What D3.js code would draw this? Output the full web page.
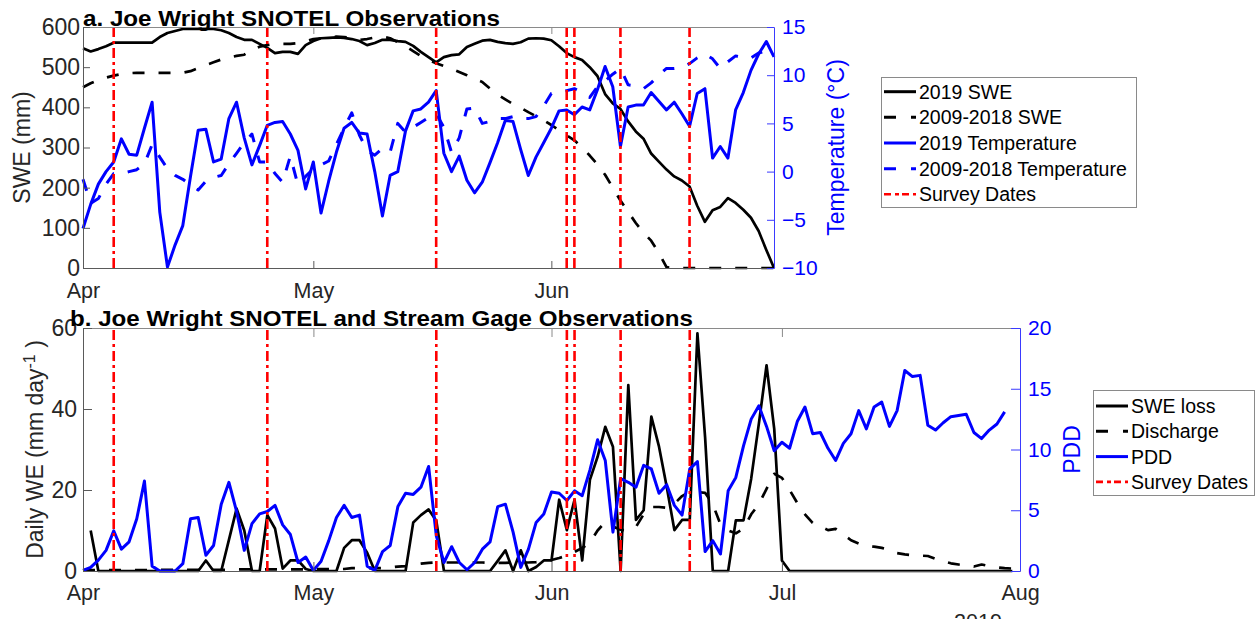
<!DOCTYPE html>
<html>
<head>
<meta charset="utf-8">
<script src="https://cdn.jsdelivr.net/npm/d3@7"></script>
<style>
  body { margin: 0; background: #fff; }
  svg text { font-family: "Liberation Sans", Arial, Helvetica, sans-serif; }
</style>
</head>
<body>
<svg id="chart" width="1256" height="619"></svg>
<script>
var parseDay = d3.timeParse("%Y-%m-%d");

// daily series, panel a runs Apr 1 - Jun 30, panel b Apr 1 - Jul 31
var daysA = d3.timeDay.range(parseDay("2019-04-01"), parseDay("2019-07-01"));
var daysB = d3.timeDay.range(parseDay("2019-04-01"), parseDay("2019-08-01"));

var surveyDates = ["2019-04-05", "2019-04-25", "2019-05-17", "2019-06-03", "2019-06-04", "2019-06-10", "2019-06-19"];
var monthTicksA = ["2019-04-01", "2019-05-01", "2019-06-01"];
var monthTicksB = ["2019-04-01", "2019-05-01", "2019-06-01", "2019-07-01", "2019-08-01"];

var sweTicks = [0, 100, 200, 300, 400, 500, 600];
var tempTicks = [-10, -5, 0, 5, 10, 15];
var weTicks = [0, 20, 40, 60];
var pddTicks = [0, 5, 10, 15, 20];

// SWE (mm)
var swe2019 = [547, 539, 545, 552, 561, 561, 561, 561, 561, 561,
  575, 585, 590, 595, 595, 595, 595, 595, 592, 585,
  575, 568, 568, 558, 548, 535, 538, 538, 533, 555,
  565, 572, 573, 574, 573, 570, 565, 555, 560, 568,
  568, 565, 563, 553, 538, 525, 512, 525, 530, 532,
  550, 558, 566, 568, 563, 560, 558, 562, 571, 572,
  571, 567, 552, 535, 525, 518, 500, 478, 433, 410,
  396, 365, 340, 322, 285, 265, 245, 228, 218, 203,
  155, 115, 144, 152, 174, 162, 145, 125, 92, 45, 0];
var sweAvg = [450, 460, 468, 474, 479, 483, 485, 486, 486, 486,
  486, 486, 486, 486, 490, 498, 505, 512, 519, 524,
  528, 531, 543, 551, 555, 558, 558, 558, 560, 565,
  570, 572, 575, 576, 575, 572, 568, 570, 574, 576,
  572, 562, 552, 540, 528, 518, 510, 503, 496, 488,
  480, 471, 463, 447, 432, 420, 408, 399, 388, 378,
  368, 356, 343, 330, 318, 300, 280, 258, 232, 200,
  168, 140, 112, 88, 68, 38, 2, 0, 0, 0,
  0, 0, 0, 0, 0, 0, 0, 0, 0, 0, 0];

// air temperature (deg C)
var temp2019 = [-5.9, -3.4, -1.3, 0.0, 1.0, 3.4, 1.8, 1.7, 4.5, 7.2,
  -4.2, -9.9, -7.6, -5.6, -0.5, 4.3, 4.4, 1.0, 1.3, 5.5,
  7.2, 3.5, 0.7, 2.7, 4.8, 5.1, 5.2, 3.9, 2.2, -1.8,
  1.0, -4.3, -1.0, 2.0, 4.5, 5.1, 4.0, 3.9, 0.0, -4.6,
  -0.4, 0.0, 4.2, 6.3, 6.5, 7.2, 8.4, 1.9, 0.0, 1.6,
  -0.9, -2.2, -1.1, 0.9, 3.0, 5.3, 5.2, 2.3, -0.4, 1.5,
  3.0, 4.5, 6.3, 6.4, 5.9, 6.7, 6.4, 8.5, 10.9, 8.8,
  2.6, 6.7, 6.9, 6.9, 8.2, 7.3, 6.4, 7.2, 6.0, 4.7,
  8.1, 8.6, 1.4, 2.6, 1.4, 6.4, 8.2, 10.5, 12.2, 13.5, 11.9];
var tempAvg = [-0.8, -3.3, -2.8, -1.3, -0.2, -0.2, 0.0, 0.2, 0.8, 2.8,
  1.5, 0.3, -0.4, -0.8, -1.4, -1.9, -1.0, -0.6, -0.4, 0.8,
  1.9, 3.0, 3.9, 1.0, 1.0, -0.2, -1.1, 1.6, -1.4, -0.5,
  0.3, 0.7, 1.1, 2.8, 4.5, 6.1, 3.8, 2.2, 1.7, 2.4,
  2.0, 5.0, 4.1, 4.6, 5.1, 5.6, 6.0, 4.6, 2.0, 3.5,
  6.5, 6.6, 5.0, 5.2, 5.5, 5.5, 5.7, 5.5, 5.5, 5.7,
  6.8, 8.1, 8.3, 8.4, 8.6, 8.2, 7.7, 8.8, 9.4, 10.1,
  10.7, 9.0, 8.9, 8.6, 9.2, 10.0, 10.7, 10.7, 10.8, 11.2,
  11.8, 12.2, 11.7, 10.7, 11.4, 12.0, 11.8, 11.8, 12.3, 12.5, 12.5];

// daily water equivalent (mm/day) and positive degree days
var sweLoss = [null, 10, 0, 0, 0, 0, 0, 0, 0, 0,
  0, 0, 0, 0, 0, 0, 2.6, 0, 0, 7.7,
  15.4, 10.0, 0, 0, 13.8, 10.5, 0.6, 2.6, 2.6, 0.5,
  0, 0, 0, 0, 5.7, 7.6, 7.6, 4.5, 0, 0,
  0, 0, 0, 12.0, 13.8, 15.2, 12.4, 0, 0, 0,
  0, 0, 0, 0, 2.5, 5.1, 0, 5.1, 0, 1.0,
  2.6, 2.6, 17.6, 10.1, 17.6, 2.6, 22.5, 28.2, 35.6, 30.7,
  0, 45.9, 12.6, 15.0, 38.1, 30.7, 20.8, 10.1, 12.6, 12.6,
  58.7, 33.0, 0, 0, 0, 12.5, 12.5, 22.8, 36.4, 50.8,
  35.1, 2.6, 0, 0, 0, 0, 0, 0, 0, 0,
  0, 0, 0, 0, 0, 0, 0, 0, 0, 0,
  0, 0, 0, 0, 0, 0, 0, 0, 0, 0,
  0, 0];
var discharge = [0.2, 0.2, 0.2, 0.2, 0.2, 0.2, 0.2, 0.2, 0.2, 0.2,
  0.3, 0.3, 0.3, 0.3, 0.3, 0.3, 0.3, 0.3, 0.3, 0.3,
  0.4, 0.4, 0.4, 0.4, 0.4, 0.4, 0.4, 0.4, 0.4, 0.4,
  0.5, 0.5, 0.5, 0.5, 0.5, 0.7, 0.7, 0.7, 0.7, 0.7,
  0.9, 1.1, 1.2, 1.5, 1.8, 2.0, 2.1, 2.1, 2.1, 2.1,
  2.1, 2.1, 2.1, 2.0, 2.0, 2.0, 2.1, 2.1, 2.1, 2.2,
  2.4, 2.7, 3.2, 3.8, 4.7, 5.7, 7.0, 10.0, 12.1, 11.0,
  10.2, 10.0, 10.9, 14.0, 15.8, 15.8, 15.6, 16.6, 18.5, 19.6,
  19.5, 19.3, 16.5, 11.5, 10.0, 9.3, 10.5, 14.0, 16.5, 20.3,
  24.0, 23.0, 20.0, 16.8, 14.0, 11.9, 11.0, 10.1, 10.4, 9.0,
  7.6, 6.8, 6.4, 6.0, 5.7, 5.2, 4.4, 4.1, 3.9, 3.8,
  3.7, 3.0, 2.4, 1.9, 1.6, 1.3, 1.1, 1.6, 1.2, 0.9,
  0.7, 0.6];
var pdd = [0.05, 0.3, 0.9, 1.7, 3.3, 1.8, 2.4, 4.3, 7.4, 0.4,
  0, 0, 0, 0.6, 4.3, 4.4, 1.3, 2.1, 5.5, 7.3,
  4.9, 1.7, 3.9, 4.7, 4.9, 5.4, 3.8, 3.0, 0.7, 1.15,
  0.05, 0.8, 2.5, 4.4, 5.4, 4.4, 4.6, 0.4, 0.05, 1.6,
  2.1, 5.3, 6.4, 6.3, 6.9, 8.6, 2.9, 0.7, 2.0, 0.7,
  0.1, 0.7, 1.8, 2.4, 5.3, 5.5, 3.2, 0.3, 1.8, 4.0,
  4.7, 6.5, 6.4, 5.8, 6.6, 6.2, 8.3, 10.8, 9.1, 3.2,
  7.6, 7.3, 6.9, 8.7, 8.4, 6.4, 7.1, 5.4, 4.6, 8.4,
  9.0, 1.6, 2.5, 1.4, 6.6, 7.7, 10.3, 12.5, 13.6, 11.9,
  9.9, 10.6, 10.1, 12.3, 13.5, 11.3, 11.4, 10.1, 9.1, 10.5,
  11.3, 13.2, 11.7, 13.5, 13.9, 11.9, 13.2, 16.5, 16.0, 16.1,
  12.0, 11.6, 12.2, 12.7, 12.8, 12.9, 11.4, 10.9, 11.6, 12.1,
  13.1, null];

var FONT = '"Liberation Sans", Arial, Helvetica, sans-serif';
var AXIS_GRAY = "#5a5a5a";
var AXIS_BLUE = "#3a3aff";
var BLUE = "#0000ff";

var svg = d3.select("#chart");

var xA = d3.scaleTime().domain([parseDay("2019-04-01"), parseDay("2019-06-30")]).range([83, 774]);
var xB = d3.scaleTime().domain([parseDay("2019-04-01"), parseDay("2019-08-01")]).range([83, 1020]);
var yA = d3.scaleLinear().domain([0, 600]).range([268, 27]);
var yAT = d3.scaleLinear().domain([-10, 15]).range([268, 27]);
var yB = d3.scaleLinear().domain([0, 60]).range([571, 328]);
var yBP = d3.scaleLinear().domain([0, 20]).range([571, 328]);

function styleAxis(g, color, textColor, size) {
  g.attr("font-family", FONT).attr("font-size", size);
  g.select(".domain").attr("stroke", color).attr("stroke-width", 1);
  g.selectAll(".tick line").attr("stroke", color);
  g.selectAll(".tick text").attr("fill", textColor);
}

function drawAxes(x, yl, yr, cfg) {
  var top = yl.range()[1], bottom = yl.range()[0];
  var left = x.range()[0], right = x.range()[1];
  var tl = cfg.tick;

  // box top with mirrored month ticks
  svg.append("g")
    .attr("transform", "translate(0," + top + ")")
    .call(d3.axisTop(x).tickValues(cfg.months).tickFormat("").tickSize(-tl).tickSizeOuter(0))
    .call(styleAxis, "#8a8a8a", "#262626", 21);

  svg.append("g")
    .attr("transform", "translate(0," + bottom + ")")
    .call(d3.axisBottom(x).tickValues(cfg.months).tickFormat(d3.timeFormat("%b"))
      .tickSize(-tl).tickSizeOuter(0).tickPadding(cfg.xPad))
    .call(styleAxis, AXIS_GRAY, "#262626", 21.5);

  svg.append("g")
    .attr("transform", "translate(" + left + ",0)")
    .call(d3.axisLeft(yl).tickValues(cfg.leftTicks).tickSize(-tl).tickSizeOuter(0).tickPadding(cfg.lPad))
    .call(styleAxis, AXIS_GRAY, "#262626", 23);

  svg.append("g")
    .attr("transform", "translate(" + right + ",0)")
    .call(d3.axisRight(yr).tickValues(cfg.rightTicks).tickSize(-tl).tickSizeOuter(0).tickPadding(8))
    .call(styleAxis, AXIS_BLUE, BLUE, 21);

  svg.append("text")
    .attr("transform", "translate(" + cfg.lLabelX + "," + (top + bottom) / 2 + ")rotate(-90)")
    .attr("text-anchor", "middle")
    .attr("dy", "0.35em")
    .attr("font-size", 23)
    .attr("fill", "#262626")
    .html(cfg.lLabel);

  svg.append("text")
    .attr("transform", "translate(" + cfg.rLabelX + "," + (top + bottom) / 2 + ")rotate(-90)")
    .attr("text-anchor", "middle")
    .attr("dy", "0.35em")
    .attr("font-size", 23)
    .attr("fill", BLUE)
    .text(cfg.rLabel);

  svg.append("text")
    .attr("x", cfg.titleX)
    .attr("y", cfg.titleY)
    .attr("font-size", 21.5)
    .attr("font-weight", "bold")
    .attr("fill", "#000")
    .attr("textLength", cfg.titleW)
    .attr("lengthAdjust", "spacingAndGlyphs")
    .text(cfg.title);
}

function drawLine(x, y, days, values, color, width, dash) {
  var line = d3.line()
    .defined(function(d) { return d[1] != null; })
    .x(function(d) { return x(d[0]); })
    .y(function(d) { return y(d[1]); });
  svg.append("path")
    .datum(d3.zip(days, values))
    .attr("d", line)
    .attr("fill", "none")
    .attr("stroke", color)
    .attr("stroke-width", width)
    .attr("stroke-linejoin", "round")
    .attr("stroke-dasharray", dash || null);
}

function drawSurvey(x, y) {
  svg.append("g").selectAll("line")
    .data(surveyDates.map(parseDay)).enter()
    .append("line")
    .attr("x1", function(d) { return x(d); })
    .attr("x2", function(d) { return x(d); })
    .attr("y1", y.range()[0])
    .attr("y2", y.range()[1])
    .attr("stroke", "#ff0000")
    .attr("stroke-width", 2.6)
    .attr("stroke-dasharray", "10,4,3,4");
}

function drawLegend(bx, by, bw, bh, rowY, step, items) {
  var g = svg.append("g");
  g.append("rect")
    .attr("x", bx + 0.5).attr("y", by + 0.5)
    .attr("width", bw).attr("height", bh)
    .attr("fill", "#fff").attr("stroke", "#8a8a8a").attr("stroke-width", 1);
  items.forEach(function(it, i) {
    var cy = rowY + i * step;
    g.append("line")
      .attr("x1", bx + 3).attr("x2", bx + 35)
      .attr("y1", cy).attr("y2", cy)
      .attr("stroke", it.color)
      .attr("stroke-width", it.width)
      .attr("stroke-dasharray", it.dash || null);
    g.append("text")
      .attr("x", bx + 38).attr("y", cy)
      .attr("dy", "0.36em")
      .attr("font-size", 19.5)
      .attr("fill", "#000")
      .text(it.label);
  });
}

// ---- panel a
drawLine(xA, yA, daysA, swe2019, "#000", 2.7);
drawLine(xA, yA, daysA, sweAvg, "#000", 2.7, "12,14");
drawLine(xA, yAT, daysA, temp2019, BLUE, 3);
drawLine(xA, yAT, daysA, tempAvg, BLUE, 3, "12,14");
drawSurvey(xA, yA);

drawAxes(xA, yA, yAT, {
  months: monthTicksA.map(parseDay), leftTicks: sweTicks, rightTicks: tempTicks,
  tick: 7, xPad: 15, lPad: 3,
  lLabel: "SWE (mm)", lLabelX: 22,
  rLabel: "Temperature (\u00B0C)", rLabelX: 836,
  title: "a. Joe Wright SNOTEL Observations", titleX: 83, titleY: 26, titleW: 417
});

drawLegend(881, 77, 255, 130, 91.7, 25.65, [
  {label: "2019 SWE", color: "#000", width: 3},
  {label: "2009-2018 SWE", color: "#000", width: 3, dash: "12,15"},
  {label: "2019 Temperature", color: BLUE, width: 3},
  {label: "2009-2018 Temperature", color: BLUE, width: 3, dash: "12,15"},
  {label: "Survey Dates", color: "#ff0000", width: 2.6, dash: "7,4,4,3"}
]);

// ---- panel b
drawLine(xB, yB, daysB, sweLoss, "#000", 2.7);
drawLine(xB, yB, daysB, discharge, "#000", 2.7, "12,14");
drawLine(xB, yBP, daysB, pdd, BLUE, 3);
drawSurvey(xB, yB);

drawAxes(xB, yB, yBP, {
  months: monthTicksB.map(parseDay), leftTicks: weTicks, rightTicks: pddTicks,
  tick: 9, xPad: 14, lPad: 6,
  lLabel: 'Daily WE (mm day<tspan dy="-8" font-size="16">-1</tspan><tspan dy="8"> )</tspan>', lLabelX: 35,
  rLabel: "PDD", rLabelX: 1072,
  title: "b. Joe Wright SNOTEL and Stream Gage Observations", titleX: 70, titleY: 326, titleW: 623
});

drawLegend(1093, 390, 161, 105, 406, 25.3, [
  {label: "SWE loss", color: "#000", width: 3},
  {label: "Discharge", color: "#000", width: 3, dash: "12,15"},
  {label: "PDD", color: BLUE, width: 3},
  {label: "Survey Dates", color: "#ff0000", width: 2.6, dash: "7,4,4,3"}
]);

// year label under the date axis, mostly cut off by the figure edge
svg.append("text")
  .attr("x", 978).attr("y", 629)
  .attr("text-anchor", "middle")
  .attr("font-size", 21.5)
  .attr("fill", "#262626")
  .text("2019");
</script>
</body>
</html>
